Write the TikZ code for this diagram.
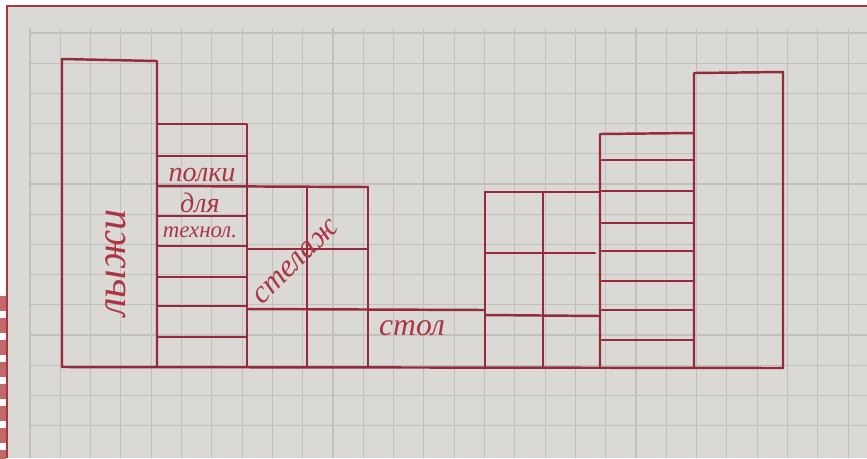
\documentclass[tikz,border=0pt]{standalone}
\usepackage{fontspec}
\setmainfont{Liberation Serif}
\usepackage{xcolor}
\usepackage{tikz}
\usetikzlibrary{positioning}

\definecolor{ink}{RGB}{150,42,58}
\definecolor{inktext}{RGB}{172,52,68}
\definecolor{paper}{RGB}{218,217,213}
\definecolor{gridline}{RGB}{193,192,189}
\definecolor{frame}{RGB}{170,55,58}

\tikzset{
  pen/.style={draw=ink, line width=1.4pt, line cap=round, line join=round},
  note/.style={text=inktext, inner sep=0pt, font=\itshape\fontsize{16}{16}\selectfont},
}

\begin{document}
\begin{tikzpicture}[x=0.02cm, y=-0.02cm]
      \useasboundingbox (0,0) rectangle (867,458);
      \fill[white] (0,0) rectangle (867,458);
      \fill[paper] (7,6) rectangle (867,458);
      \foreach \y in {296,318,...,450} \fill[frame!75] (0,\y) rectangle (6,\y+15);

      % graph paper
      \foreach \k in {0,...,27} \draw[gridline, line width=0.6pt] (30+30.3*\k,28) -- (30+30.3*\k,458);
      \foreach \k in {0,...,13} \draw[gridline, line width=0.6pt] (30,33+30.2*\k) -- (867,33+30.2*\k);
      \draw[frame, line width=1.3pt] (7,458) -- (7,6) -- (867,6);

      % skis
      \draw[pen] (62,367) -- (62,59) -- (157,61) -- (157,367);
      % shelves left
      \draw[pen] (157,124) -- (247,124) -- (247,367);
      \foreach \y in {156,216,246,277,306,337} \draw[pen] (157,\y) -- (247,\y);
      \draw[pen] (157,186) -- (368,187);
      % rack
      \draw[pen] (368,187) -- (368,367);
      \draw[pen] (307,187) -- (307,367);
      \draw[pen] (247,249) -- (368,249);
      \draw[pen] (247,309) -- (485,310);
      % rack right
      \draw[pen] (485,367) -- (485,192) -- (600,192);
      \draw[pen] (543,192) -- (543,368);
      \draw[pen] (485,253) -- (595,253);
      \draw[pen] (485,315) -- (600,316);
      % shelves right
      \draw[pen] (600,368) -- (600,134) -- (694,133);
      \foreach \y in {160,191,223,251,281,310,340} \draw[pen] (602,\y) -- (694,\y);
      \draw[pen] (694,368) -- (694,73) -- (783,72) -- (783,368);
      % floor
      \draw[pen] (62,367) -- (783,368);

      \node[note, rotate=90, font=\itshape\fontsize{24}{24}\selectfont] (skis) at (116,263) {лыжи};
      \node[note] (shelf1) at (202,175) {полки};
      \node[note] (shelf2) at (200,203) {для};
      \node[note, font=\itshape\fontsize{13}{13}\selectfont] (shelf3) at (200,232) {технол.};
      \node[note, rotate=45, font=\itshape\fontsize{18}{18}\selectfont] (rack) at (296,262) {стелаж};
      \node[note, font=\itshape\fontsize{18}{18}\selectfont] (desk) at (412,328) {стол};
    \end{tikzpicture}
\end{document}
